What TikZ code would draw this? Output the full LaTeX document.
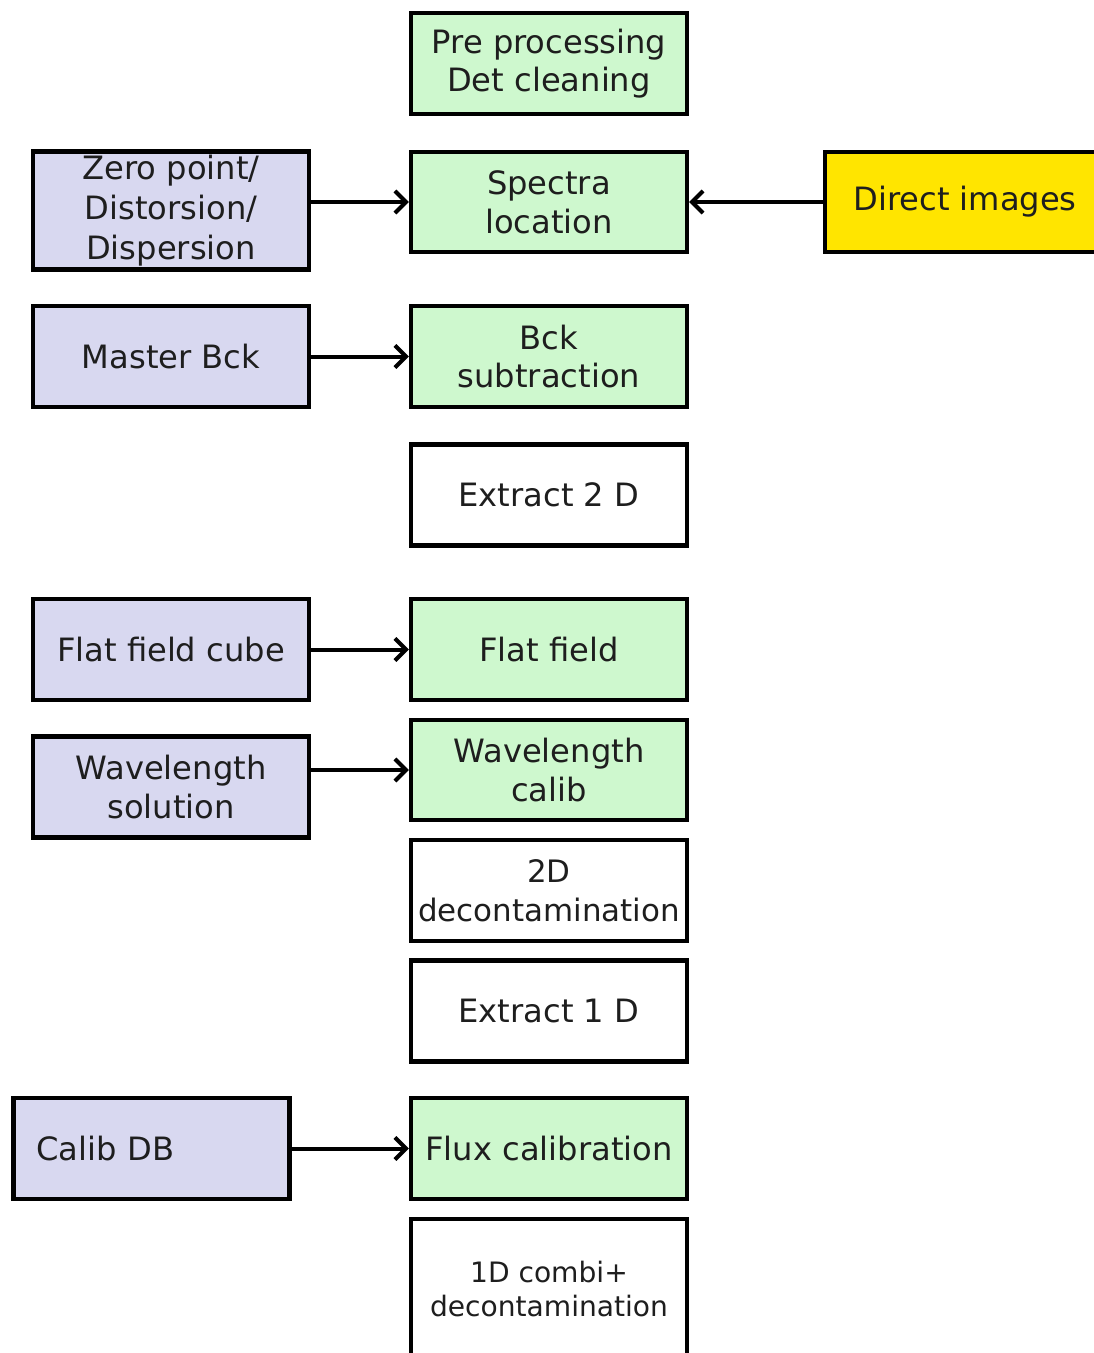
\documentclass[tikz,border=0pt]{standalone}
\usepackage{fontspec}
\setmainfont{DejaVu Sans}
\usetikzlibrary{arrows.meta,positioning,calc}
\definecolor{inputblue}{RGB}{216,216,240}
\definecolor{stepgreen}{RGB}{206,248,206}
\definecolor{directyellow}{RGB}{255,229,0}
\definecolor{txtgray}{RGB}{30,30,30}

\begin{document}
\begin{tikzpicture}[x=0.02cm,y=-0.02cm,>={Straight Barb[length=2.2mm,width=4.4mm]},
  every node/.style={rectangle,draw=black,line width=0.09cm,minimum width=5.52cm,minimum height=2.02cm,
    align=center,inner sep=1pt,text=txtgray,font=\fontsize{18.3}{22}\selectfont},
  proc/.style={fill=stepgreen},
  calib/.style={fill=inputblue},
  plain/.style={fill=white},
  link/.style={->,line width=0.08cm}]
  \useasboundingbox (0,0) rectangle (1094,1353);
  % pipeline column
  \node[proc] (pre) at (549,63.5) {Pre processing\\Det cleaning};
  \node[proc,minimum height=2.0cm] (spec) at (549,202) {Spectra\\location};
  \node[proc] (bck) at (549,356.5) {Bck\\subtraction};
  \node[plain] (ex2) at (549,495) {Extract 2 D};
  \node[proc] (flat) at (549,649.5) {Flat field};
  \node[proc,minimum height=2.0cm] (wcal) at (549,770) {Wavelength\\calib};
  \node[plain,font=\fontsize{17.6}{22}\selectfont] (dec2) at (549,890.5) {2D\\decontamination};
  \node[plain] (ex1) at (549,1011) {Extract 1 D};
  \node[proc] (flux) at (549,1148.5) {Flux calibration};
  \node[plain,minimum height=2.8cm,font=\fontsize{16}{19.5}\selectfont] (comb) at (549,1289) {1D combi+\\decontamination};
  % calibration inputs
  \node[calib,minimum height=2.36cm,font=\fontsize{18.3}{22.8}\selectfont] (zp) at (171,210.5) {Zero point/\\Distorsion/\\Dispersion};
  \node[calib] (mbck) at (171,356.5) {Master Bck};
  \node[calib] (ffc) at (171,649.5) {Flat field cube};
  \node[calib] (wsol) at (171,787) {Wavelength\\solution};
  \node[calib,text width=4.6cm,align=left,inner xsep=0.46cm] (cdb) at (151.5,1148.5) {Calib DB};
  \node[fill=directyellow,minimum width=5.6cm,minimum height=2.0cm] (dir) at (965,202) {Direct images};
  % connectors
  \draw[link] (zp.east |- spec.west) -- (spec.west);
  \draw[link] (dir.west) -- (spec.east);
  \draw[link] (mbck.east) -- (bck.west);
  \draw[link] (ffc.east) -- (flat.west);
  \draw[link] (wsol.east |- wcal.west) -- (wcal.west);
  \draw[link] (cdb.east) -- (flux.west);
\end{tikzpicture}
\end{document}
